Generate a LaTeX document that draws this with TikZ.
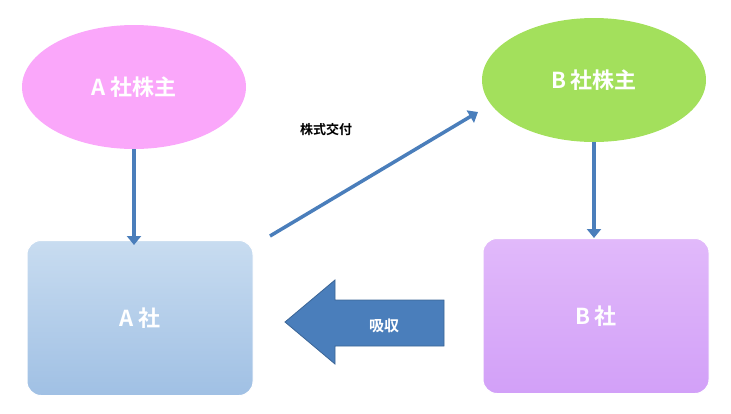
\documentclass[tikz,border=0pt]{standalone}
\usepackage{fontspec}
\setmainfont{Noto Sans CJK JP}[BoldFont={Noto Sans CJK JP Bold}]
\usetikzlibrary{arrows.meta,shapes.geometric}
\definecolor{arr}{HTML}{4A7EBB}
\tikzset{
  ell/.style={ellipse,minimum width=224pt,minimum height=124pt,inner sep=0pt,text=white,font=\bfseries\fontsize{22}{26}\selectfont},
  box/.style={rounded corners=14pt,minimum width=226pt,minimum height=155pt,draw=white,line width=1pt,text=white,font=\bfseries\fontsize{22}{26}\selectfont},
  conn/.style={draw=arr,line width=3.5pt,-{Triangle[length=9pt,width=14pt]}}
}
\begin{document}
\begin{tikzpicture}[x=1pt,y=-1pt]
\useasboundingbox (0,0) rectangle (731,413);
\node[ell,fill={rgb,255:red,250;green,167;blue,250}] (ea) at (134,87) {A 社株主};
\node[ell,fill={rgb,255:red,163;green,224;blue,92}] (eb) at (594,80) {B 社株主};
\node[box,top color={rgb,255:red,200;green,220;blue,240},bottom color={rgb,255:red,160;green,192;blue,228}] (ba) at (140,318) {A 社};
\node[box,top color={rgb,255:red,225;green,185;blue,250},bottom color={rgb,255:red,210;green,160;blue,248}] (bb) at (596,316) {B 社};
\draw[conn] (ea) -- (134,245) coordinate (ta);
\draw[conn] (eb) -- (594,238) coordinate (tb);
\coordinate (ds) at (270,236);
\coordinate (de) at (478,112);
\draw[conn] (ds) -- (de);
\node[font=\bfseries\fontsize{13}{15}\selectfont] (lbl) at (326,130) {株式交付};
\fill[arr,draw=arr!80!black,line width=0.8pt] (285,322) -- (335,280) -- (335,300) -- (444,300) -- (444,346) -- (335,346) -- (335,364) -- cycle;
\node[text=white,font=\bfseries\fontsize{15}{17}\selectfont] (ab) at (384,326) {吸収};
\end{tikzpicture}
\end{document}
